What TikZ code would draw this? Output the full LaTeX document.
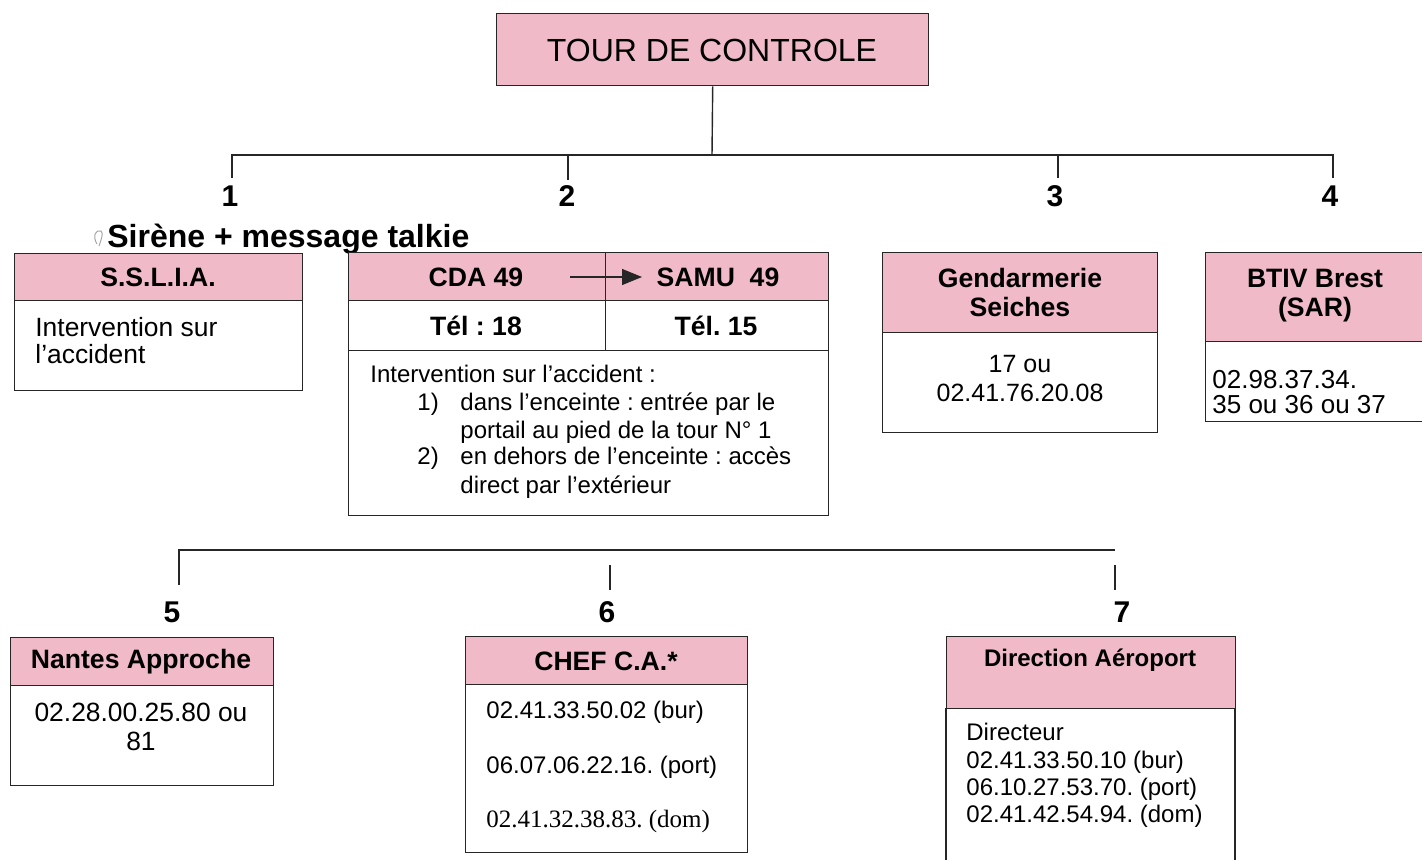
\documentclass[tikz,border=0pt]{standalone}
\usepackage{fontspec}
\setmainfont{Liberation Sans}
\newfontfamily\timesf{Liberation Serif}
\usetikzlibrary{arrows.meta}
\definecolor{pinkc}{RGB}{241,186,201}
\newcommand\bodyfont{\fontsize{12}{13.5}\selectfont}
\newcommand\bigbody{\fontsize{13.2}{14.5}\selectfont}
\newcommand\hdrfont{\fontsize{13.3}{14.5}\selectfont\bfseries}
\tikzset{
  box/.style={draw=black!85, line width=0.7pt, inner sep=0pt, anchor=north west},
  hdr/.style={box, fill=pinkc},
  txt/.style={inner sep=0pt, font=\bodyfont},
  htxt/.style={inner sep=0pt, font=\hdrfont},
  num/.style={inner sep=0pt, font=\fontsize{15}{17}\selectfont\bfseries},
  conn/.style={draw=black!85, line width=0.7pt},
}
\begin{document}
\frenchspacing
\begin{tikzpicture}[x=0.5pt,y=-0.5pt]
\useasboundingbox (0,0) rectangle (1422,860);
% top
\node[hdr, minimum width=216pt, minimum height=36pt] (tour) at (496,13) {};
\node[inner sep=0pt, font=\fontsize{16}{18}\selectfont] (tourt) at (712,50) {TOUR DE CONTROLE};
% top connectors
\coordinate (h1) at (232,155);
\coordinate (h2) at (568,155);
\coordinate (h3) at (1058,155);
\coordinate (h4) at (1333,155);
\coordinate (hm) at (712,155);
\draw[conn] (tour.south) -- (hm);
\draw[conn] (232,178) -- (h1) -- (h4) -- (1333,178);
\draw[conn] (h2) -- (568,180);
\draw[conn] (h3) -- (1058,178);
\node[num, anchor=base] (n1) at (230,207) {1};
\node[num, anchor=base] (n2) at (567,207) {2};
\node[num, anchor=base] (n3) at (1055,207) {3};
\node[num, anchor=base] (n4) at (1330,207) {4};
\draw[black!35, line width=0.5pt] (97,244) .. controls (92,236) and (96,229) .. (101,231) .. controls (104,233) and (101,240) .. (99,246);
\node[inner sep=0pt, anchor=base west, font=\fontsize{16}{18}\selectfont\bfseries] (sirene) at (107,248) {Sirène + message talkie};
% SSLIA
\node[hdr, minimum width=144pt, minimum height=23.5pt] (sh) at (14,253) {};
\node[htxt] (sht) at (158,277) {S.S.L.I.A.};
\node[box, minimum width=144pt, minimum height=45pt] (sb) at (14,300) {};
\node[txt, font=\bigbody, anchor=base west] (sb1) at (35,337) {Intervention sur};
\node[txt, font=\bigbody, anchor=base west] (sb2) at (35,364) {l’accident};
% CDA / SAMU
\node[hdr, minimum width=128.5pt, minimum height=24pt] (cdah) at (348,252) {};
\node[hdr, minimum width=111.5pt, minimum height=24pt] (samuh) at (605,252) {};
\node[htxt] (cdat) at (476,277) {CDA 49};
\node[htxt] (samut) at (718,277) {SAMU\ \ 49};
\draw[conn, line width=0.6pt, -{Triangle[length=10pt,width=8pt]}] (570,277) -- (642,277);
\node[box, minimum width=128.5pt, minimum height=25pt] (cdat2) at (348,300) {};
\node[box, minimum width=111.5pt, minimum height=25pt] (samut2) at (605,300) {};
\node[htxt] (tel18) at (476,326) {Tél : 18};
\node[htxt] (tel15) at (716,326) {Tél. 15};
\node[box, minimum width=240pt, minimum height=82.5pt] (cdab) at (348,350) {};
\node[txt, anchor=base west] (c1) at (370,383) {Intervention sur l’accident :};
\node[txt, anchor=base west] (c2) at (417,411) {1)};
\node[txt, anchor=base west] (c3) at (460,411) {dans l’enceinte : entrée par le};
\node[txt, anchor=base west] (c4) at (460,438) {portail au pied de la tour N° 1};
\node[txt, anchor=base west] (c5) at (417,465) {2)};
\node[txt, anchor=base west] (c6) at (460,465) {en dehors de l’enceinte : accès};
\node[txt, anchor=base west] (c7) at (460,493) {direct par l’extérieur};
% Gendarmerie
\node[hdr, minimum width=137.5pt, minimum height=40pt] (gh) at (882,252) {};
\node[htxt, anchor=base] (gt1) at (1020,288) {Gendarmerie};
\node[htxt, anchor=base] (gt2) at (1020,317) {Seiches};
\node[box, minimum width=137.5pt, minimum height=50pt] (gb) at (882,332) {};
\node[txt, font=\fontsize{12.5}{14}\selectfont, anchor=base] (gb1) at (1020,373) {17 ou};
\node[txt, font=\fontsize{12.5}{14}\selectfont, anchor=base] (gb2) at (1020,401) {02.41.76.20.08};
% BTIV
\node[hdr, minimum width=112pt, minimum height=44.5pt] (bh) at (1205,252) {};
\node[htxt, anchor=base] (bt1) at (1315,288) {BTIV Brest};
\node[htxt, anchor=base] (bt2) at (1315,317) {(SAR)};
\node[box, minimum width=112pt, minimum height=40pt] (bb) at (1205,341) {};
\node[txt, font=\fontsize{13}{14}\selectfont, anchor=base west] (bb1) at (1212,389) {02.98.37.34.};
\node[txt, font=\fontsize{13}{14}\selectfont, anchor=base west] (bb2) at (1212,414) {35 ou 36 ou 37};
% second level connectors
\coordinate (l5) at (179,550);
\coordinate (l7) at (1115,550);
\draw[conn] (179,585) -- (l5) -- (l7);
\draw[conn] (610,565) -- (610,590);
\draw[conn] (1115,565) -- (1115,590);
\node[num, anchor=base] (n5) at (172,622) {5};
\node[num, anchor=base] (n6) at (607,622) {6};
\node[num, anchor=base] (n7) at (1122,622) {7};
% Nantes
\node[hdr, minimum width=131.5pt, minimum height=24pt] (nh) at (10,637) {};
\node[htxt] (nt) at (141,662) {Nantes Approche};
\node[box, minimum width=131.5pt, minimum height=50pt] (nb) at (10,685) {};
\node[txt, font=\bigbody, anchor=base] (nb1) at (141,721) {02.28.00.25.80 ou};
\node[txt, font=\bigbody, anchor=base] (nb2) at (141,750) {81};
% Chef
\node[hdr, minimum width=141pt, minimum height=24pt] (ch) at (465,636) {};
\node[htxt] (ct) at (606,661) {CHEF C.A.*};
\node[box, minimum width=141pt, minimum height=84pt] (cb) at (465,684) {};
\node[txt, anchor=base west] (cb1) at (486,718) {02.41.33.50.02 (bur)};
\node[txt, anchor=base west] (cb2) at (486,773) {06.07.06.22.16. (port)};
\node[txt, anchor=base west, font=\timesf\fontsize{12.5}{14}\selectfont] (cb3) at (486,827) {02.41.32.38.83. (dom)};
% Direction
\node[hdr, minimum width=144.5pt, minimum height=36pt] (dh) at (946,636) {};
\node[inner sep=0pt, font=\fontsize{12}{14}\selectfont\bfseries] (dt) at (1090,660) {Direction Aéroport};
\draw[draw=black!85, line width=0.7pt] (946,708) -- (946,862) (1235,708) -- (1235,862);
\node[txt, anchor=base west] (db1) at (966,740) {Directeur};
\node[txt, anchor=base west] (db2) at (966,768) {02.41.33.50.10 (bur)};
\node[txt, anchor=base west] (db3) at (966,795) {06.10.27.53.70. (port)};
\node[txt, anchor=base west] (db4) at (966,822) {02.41.42.54.94. (dom)};
\end{tikzpicture}
\end{document}
